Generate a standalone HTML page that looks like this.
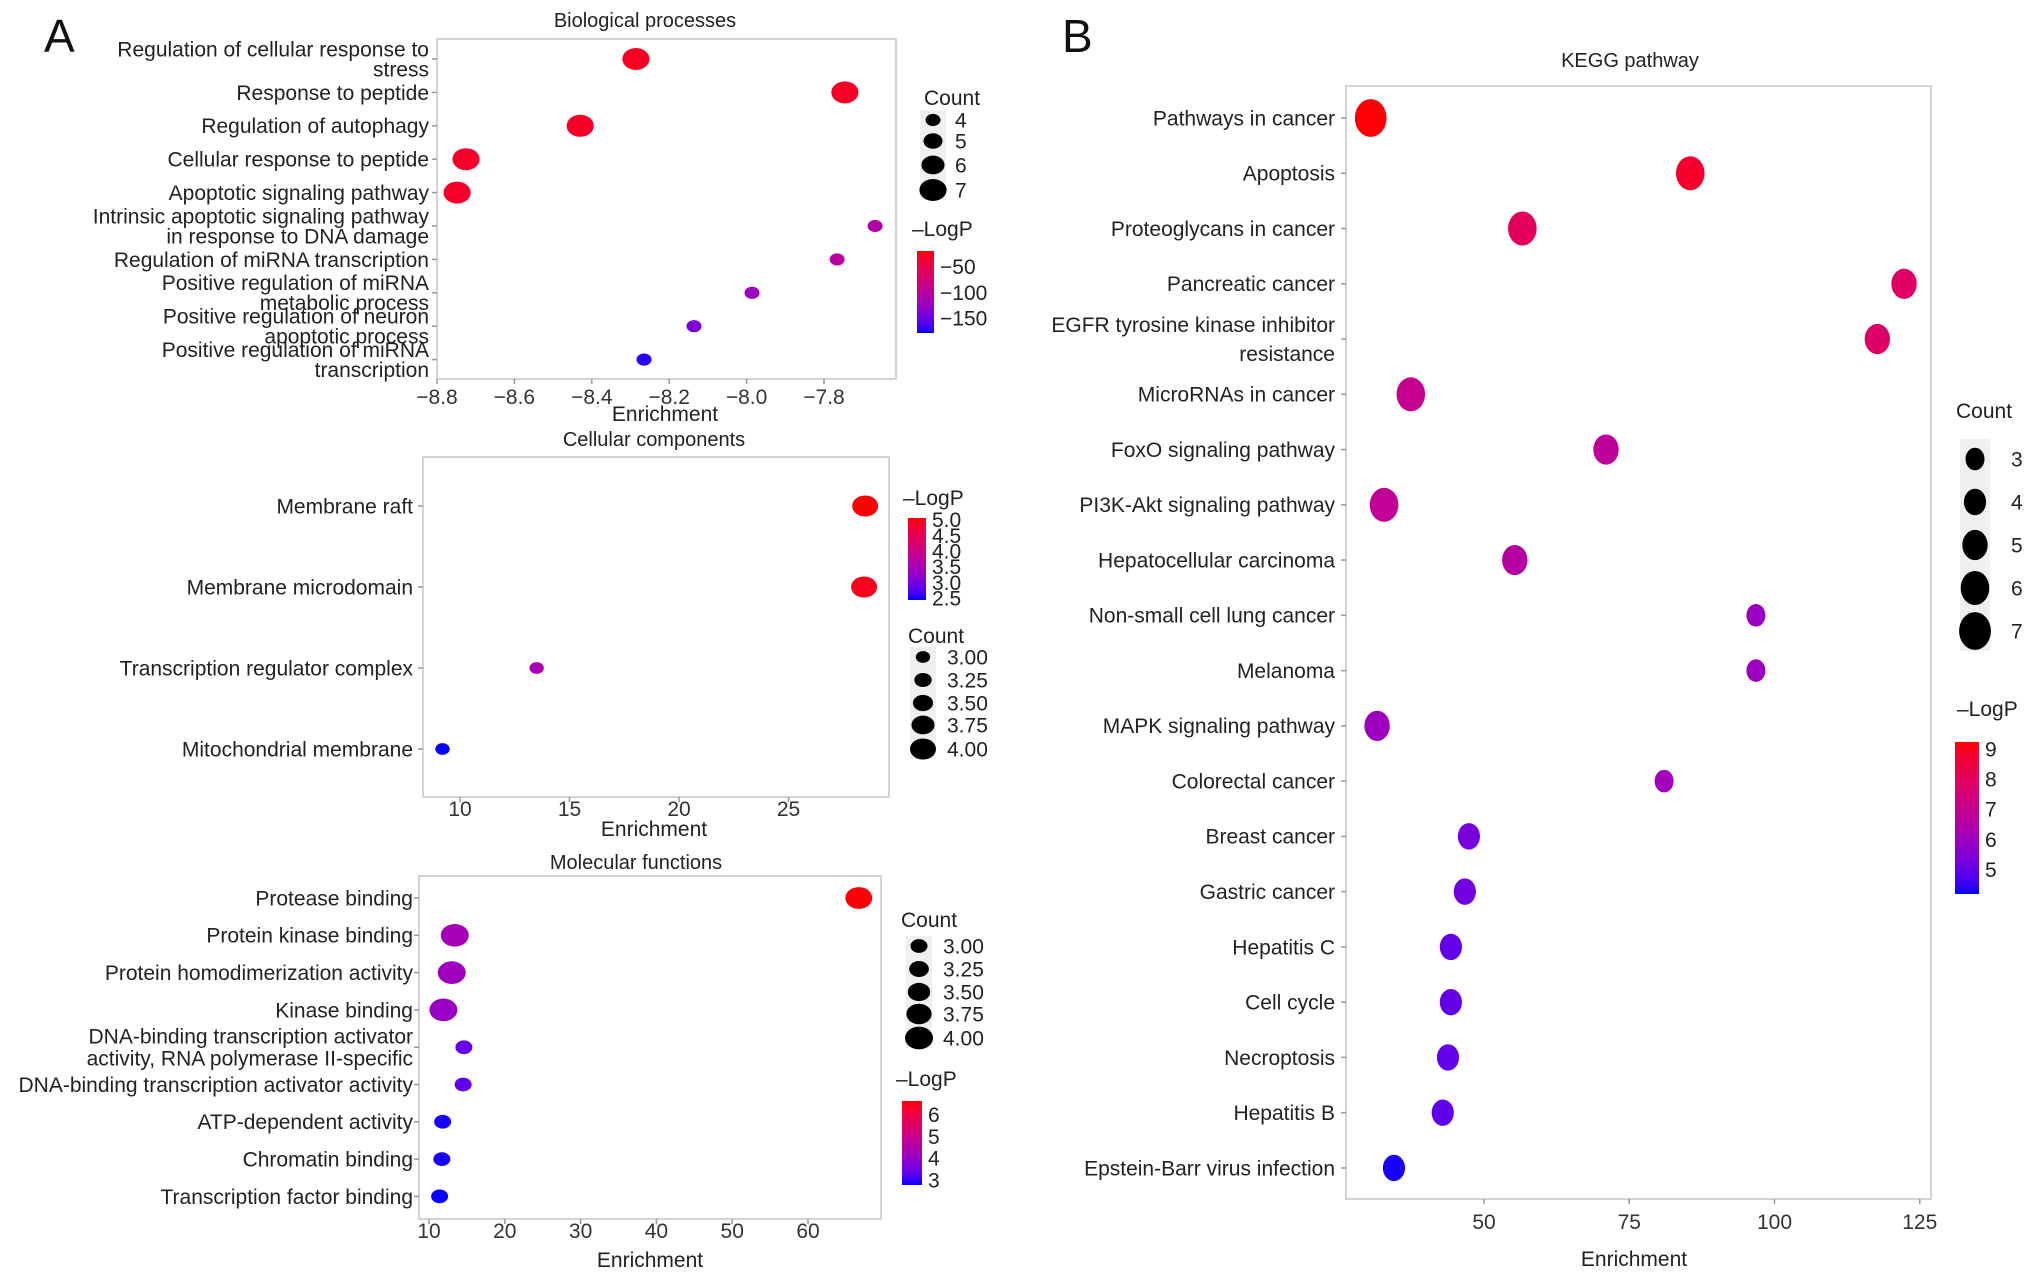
<!DOCTYPE html>
<html><head><meta charset="utf-8"><title>GO and KEGG enrichment dot plots</title>
<style>
html,body{margin:0;padding:0;background:#fff;}
svg{display:block;font-family:"Liberation Sans",Arial,sans-serif;}
</style></head>
<body>
<svg id="fig" width="2032" height="1275" viewBox="0 0 2032 1275" xmlns="http://www.w3.org/2000/svg">
<rect x="0" y="0" width="2032" height="1275" fill="#fff"/>
<text x="44" y="52" font-size="46" fill="#111">A</text>
<text x="1062" y="52" font-size="46" fill="#111">B</text>
<defs id="defs"></defs>
</svg>
<script>
// ---------- Biological processes ----------
const bpCats = [["Regulation of cellular response to","stress"],["Response to peptide"],["Regulation of autophagy"],["Cellular response to peptide"],["Apoptotic signaling pathway"],["Intrinsic apoptotic signaling pathway","in response to DNA damage"],["Regulation of miRNA transcription"],["Positive regulation of miRNA","metabolic process"],["Positive regulation of neuron","apoptotic process"],["Positive regulation of miRNA","transcription"]];
const bpEnrich = [-8.286,-7.746,-8.43,-8.725,-8.748,-7.668,-7.766,-7.986,-8.136,-8.265];
const bpCount = [7,7,7,7,7,4,4,4,4,4];
const bpLogP = [-28,-30,-30,-32,-32,-105,-100,-122,-140,-172];
const bpTicks = [-8.8,-8.6,-8.4,-8.2,-8.0,-7.8];
const bpTickLabels = ["\u22128.8","\u22128.6","\u22128.4","\u22128.2","\u22128.0","\u22127.8"];
const bpCountLegend = [4,5,6,7];
const bpColorTicks = [-50,-100,-150];
const bpColorTickLabels = ["\u221250","\u2212100","\u2212150"];
// ---------- Cellular components ----------
const ccCats = [["Membrane raft"],["Membrane microdomain"],["Transcription regulator complex"],["Mitochondrial membrane"]];
const ccEnrich = [28.5,28.45,13.5,9.2];
const ccCount = [4,4,3,3];
const ccLogP = [5.05,4.95,3.5,2.45];
const ccTicks = [10,15,20,25];
const ccTickLabels = ["10","15","20","25"];
const ccCountLegend = [3,3.25,3.5,3.75,4];
const ccCountLegendLabels = ["3.00","3.25","3.50","3.75","4.00"];
const ccColorTicks = [5.0,4.5,4.0,3.5,3.0,2.5];
const ccColorTickLabels = ["5.0","4.5","4.0","3.5","3.0","2.5"];
// ---------- Molecular functions ----------
const mfCats = [["Protease binding"],["Protein kinase binding"],["Protein homodimerization activity"],["Kinase binding"],["DNA-binding transcription activator","activity, RNA polymerase II-specific"],["DNA-binding transcription activator activity"],["ATP-dependent activity"],["Chromatin binding"],["Transcription factor binding"]];
const mfEnrich = [66.7,13.4,13.0,11.9,14.6,14.5,11.8,11.7,11.4];
const mfCount = [3.9,4,4,4,3,3,3,3,3];
const mfLogP = [6.6,4.3,4.2,4.1,3.4,3.35,2.85,2.85,2.8];
const mfTicks = [10,20,30,40,50,60];
const mfTickLabels = ["10","20","30","40","50","60"];
const mfCountLegend = [3,3.25,3.5,3.75,4];
const mfCountLegendLabels = ["3.00","3.25","3.50","3.75","4.00"];
const mfColorTicks = [6,5,4,3];
const mfColorTickLabels = ["6","5","4","3"];
// ---------- KEGG ----------
const keggCats = [["Pathways in cancer"],["Apoptosis"],["Proteoglycans in cancer"],["Pancreatic cancer"],["EGFR tyrosine kinase inhibitor","resistance"],["MicroRNAs in cancer"],["FoxO signaling pathway"],["PI3K-Akt signaling pathway"],["Hepatocellular carcinoma"],["Non-small cell lung cancer"],["Melanoma"],["MAPK signaling pathway"],["Colorectal cancer"],["Breast cancer"],["Gastric cancer"],["Hepatitis C"],["Cell cycle"],["Necroptosis"],["Hepatitis B"],["Epstein-Barr virus infection"]];
const keggEnrich = [30.5,85.5,56.6,122.3,117.7,37.4,71.0,32.8,55.3,96.8,96.8,31.6,81.0,47.4,46.7,44.3,44.3,43.8,42.9,34.5];
const keggCount = [7,6,6,5,5,6,5,6,5,3,3,5,3,4,4,4,4,4,4,4];
const keggLogP = [9.2,8.8,8.0,7.9,7.8,7.0,6.8,6.9,6.6,5.9,6.0,6.0,6.1,5.3,5.2,5.0,5.0,5.0,4.95,4.3];
const keggTicks = [50,75,100,125];
const keggTickLabels = ["50","75","100","125"];
const keggCountLegend = [3,4,5,6,7];
const keggColorTicks = [9,8,7,6,5];
const keggColorTickLabels = ["9","8","7","6","5"];

const NS = "http://www.w3.org/2000/svg";
const svg = document.getElementById("fig");
const defs = document.getElementById("defs");
function mk(tag, attrs, parent){
  const e = document.createElementNS(NS, tag);
  for (const k in attrs) e.setAttribute(k, attrs[k]);
  (parent||svg).appendChild(e);
  return e;
}
function lin(c){c/=255;return c<=0.04045?c/12.92:Math.pow((c+0.055)/1.055,2.4);}
function unlin(c){c=c<=0.0031308?12.92*c:1.055*Math.pow(c,1/2.4)-0.055;return Math.max(0,Math.min(255,Math.round(c*255)));}
function toLab(rgb){
  const r=lin(rgb[0]),g=lin(rgb[1]),b=lin(rgb[2]);
  let X=(0.4124*r+0.3576*g+0.1805*b)/0.95047,Y=0.2126*r+0.7152*g+0.0722*b,Z=(0.0193*r+0.1192*g+0.9505*b)/1.08883;
  const f=t=>t>0.008856?Math.cbrt(t):7.787*t+16/116;
  const fx=f(X),fy=f(Y),fz=f(Z);
  return [116*fy-16,500*(fx-fy),200*(fy-fz)];
}
function fromLab(L){
  const fy=(L[0]+16)/116,fx=fy+L[1]/500,fz=fy-L[2]/200;
  const fi=t=>t*t*t>0.008856?t*t*t:(t-16/116)/7.787;
  const X=fi(fx)*0.95047,Y=fi(fy),Z=fi(fz)*1.08883;
  const r=3.2406*X-1.5372*Y-0.4986*Z,g=-0.9689*X+1.8758*Y+0.0415*Z,b=0.0557*X-0.2040*Y+1.0570*Z;
  return "rgb("+unlin(r)+","+unlin(g)+","+unlin(b)+")";
}
const LOW=toLab([0,0,255]), HIGH=toLab([255,0,0]);
function col(t){t=Math.max(0,Math.min(1,t));t=Math.pow(t,1.3);return fromLab([LOW[0]+(HIGH[0]-LOW[0])*t,LOW[1]+(HIGH[1]-LOW[1])*t,LOW[2]+(HIGH[2]-LOW[2])*t]);}

function drawPanel(p){
  const g = mk("g", {});
  
  
  const title = mk("text", {x:p.titleX, y:p.titleY, "font-size":20, "text-anchor":"middle", fill:"#222"}, g);
  title.textContent = p.title;
  
  
  const box = mk("rect", {x:p.box[0], y:p.box[1], width:p.box[2]-p.box[0], height:p.box[3]-p.box[1], fill:"none", stroke:"#d4d4d4", "stroke-width":2}, g);
  
  
  const xOf = v => p.x0 + (v - p.v0) * p.pxPerUnit;
  const yOf = i => p.rowY0 + i * p.rowStep;
  p.ticks.forEach((v, i) => {
    const x = xOf(v);
    const tk = mk("line", {x1:x, x2:x, y1:p.box[3], y2:p.box[3]+5, stroke:"#999", "stroke-width":1.5}, g);
    
    
    const tl = mk("text", {x:x, y:p.tickY, "font-size":p.fs, "text-anchor":"middle", fill:"#333"}, g);
    tl.textContent = p.tickLabels[i];
    
    
  });
  const xt = mk("text", {x:p.xTitleX, y:p.xTitleY, "font-size":p.fs, "text-anchor":"middle", fill:"#222"}, g);
  xt.textContent = "Enrichment";
  
  
  p.cats.forEach((lines, i) => {
    const y = yOf(i);
    const tk = mk("line", {x1:p.box[0]-5, x2:p.box[0], y1:y, y2:y, stroke:"#999", "stroke-width":1.5}, g);
    
    
    const n = lines.length;
    lines.forEach((ln, j) => {
      const ty = y + (j - (n - 1) / 2) * p.lineH + p.fs * 0.35;
      const t = mk("text", {x:p.labelX, y:ty, "font-size":p.fs, "text-anchor":"end", fill:"#222"}, g);
      t.textContent = ln;
      
      
    });
  });
  p.enrich.forEach((v, i) => {
    const rx = p.rx(p.count[i]);
    const t = (p.logp[i] - p.cLo) / (p.cHi - p.cLo);
    const d = mk("ellipse", {cx:xOf(v), cy:yOf(i), rx:rx, ry:rx * p.ryRatio, fill:col(t)}, g);
    
    
  });
  const ct = mk("text", {x:p.cntTitle[0], y:p.cntTitle[1], "font-size":p.fs, fill:"#222"}, g);
  ct.textContent = "Count";
  
  
  const ys = p.cntY;
  const bg = mk("rect", {x:p.cntX - p.keyW/2, y:ys[0] - p.keyH/2, width:p.keyW, height:ys[ys.length-1]-ys[0]+p.keyH, fill:"#efefef"}, g);
  
  
  p.cntLegend.forEach((c, i) => {
    const rx = p.rx(c);
    const d = mk("ellipse", {cx:p.cntX, cy:ys[i], rx:rx, ry:rx * p.ryRatio, fill:"#000"}, g);
    
    
    const l = mk("text", {x:p.cntLabelX, y:ys[i] + p.fs*0.35, "font-size":p.fs, fill:"#222"}, g);
    l.textContent = p.cntLabels ? p.cntLabels[i] : String(c);
    
    
  });
  const lt = mk("text", {x:p.colTitle[0], y:p.colTitle[1], "font-size":p.fs, fill:"#222"}, g);
  lt.textContent = "\u2013LogP";
  
  
  const gid = p.key + "-grad";
  const lg = mk("linearGradient", {id:gid, x1:0, y1:1, x2:0, y2:0}, defs);
  for (let k = 0; k <= 20; k++) mk("stop", {offset:k/20, "stop-color":col(k/20)}, lg);
  const b = p.bar;
  const bar = mk("rect", {x:b[0], y:b[1], width:b[2]-b[0], height:b[3]-b[1], fill:"url(#"+gid+")"}, g);
  
  
  p.colTicks.forEach((v, i) => {
    const y = b[3] - (v - p.cLo) / (p.cHi - p.cLo) * (b[3] - b[1]);
    const l = mk("text", {x:b[2] + 6, y:y + p.fs*0.35, "font-size":p.fs, fill:"#222"}, g);
    l.textContent = p.colTickLabels[i];
    
    
  });
}

drawPanel({key:"biological-processes", title:"Biological processes", titleX:645, titleY:27, box:[437,39,896,379],
  cats:bpCats, enrich:bpEnrich, count:bpCount, logp:bpLogP, ticks:bpTicks, tickLabels:bpTickLabels,
  x0:437, v0:-8.8, pxPerUnit:387, rowY0:59, rowStep:33.4, labelX:429, lineH:20, fs:21,
  tickY:404, xTitleX:665, xTitleY:421,
  rx:c => 7.5 + (c-4)*2.03, ryRatio:0.81, cLo:-179, cHi:-19,
  cntTitle:[924,105], cntX:933, cntY:[120,141,165,190], keyW:26, keyH:20, cntLabelX:955, cntLegend:bpCountLegend,
  colTitle:[912,236], bar:[917,251,934,333], colTicks:bpColorTicks, colTickLabels:bpColorTickLabels});

drawPanel({key:"cellular-components", title:"Cellular components", titleX:654, titleY:446, box:[423,457,889,797],
  cats:ccCats, enrich:ccEnrich, count:ccCount, logp:ccLogP, ticks:ccTicks, tickLabels:ccTickLabels,
  x0:460, v0:10, pxPerUnit:21.9, rowY0:506, rowStep:81, labelX:413, lineH:21, fs:21,
  tickY:816, xTitleX:654, xTitleY:836,
  rx:c => 7.2 + (c-3)*5.8, ryRatio:0.81, cLo:2.44, cHi:5.06,
  cntTitle:[908,643], cntX:923, cntY:[657,680,703,725,749], keyW:26, keyH:20, cntLabelX:947, cntLegend:ccCountLegend, cntLabels:ccCountLegendLabels,
  colTitle:[903,505], bar:[908,518,926,600], colTicks:ccColorTicks, colTickLabels:ccColorTickLabels});

drawPanel({key:"molecular-functions", title:"Molecular functions", titleX:636, titleY:869, box:[419,876,881,1219],
  cats:mfCats, enrich:mfEnrich, count:mfCount, logp:mfLogP, ticks:mfTicks, tickLabels:mfTickLabels,
  x0:429, v0:10, pxPerUnit:7.58, rowY0:898, rowStep:37.3, labelX:413, lineH:22, fs:21,
  tickY:1238, xTitleX:650, xTitleY:1267,
  rx:c => 8.5 + (c-3)*5.5, ryRatio:0.81, cLo:2.77, cHi:6.64,
  cntTitle:[901,927], cntX:919, cntY:[946,969,992,1014,1038], keyW:26, keyH:20, cntLabelX:943, cntLegend:mfCountLegend, cntLabels:mfCountLegendLabels,
  colTitle:[896,1086], bar:[902,1101,922,1185], colTicks:mfColorTicks, colTickLabels:mfColorTickLabels});

drawPanel({key:"kegg-pathway", title:"KEGG pathway", titleX:1630, titleY:67, box:[1346,86,1931,1199],
  cats:keggCats, enrich:keggEnrich, count:keggCount, logp:keggLogP, ticks:keggTicks, tickLabels:keggTickLabels,
  x0:1484, v0:50, pxPerUnit:5.81, rowY0:118, rowStep:55.26, labelX:1335, lineH:29, fs:21,
  tickY:1229, xTitleX:1634, xTitleY:1266,
  rx:c => 9.5 + (c-3)*1.6, ryRatio:1.19, cLo:4.2, cHi:9.23,
  cntTitle:[1956,418], cntX:1975, cntY:[459,502,545,588,631], keyW:30, keyH:40, cntLabelX:2011, cntLegend:keggCountLegend,
  colTitle:[1957,716], bar:[1955,742,1979,894], colTicks:keggColorTicks, colTickLabels:keggColorTickLabels});
</script>
</body></html>
